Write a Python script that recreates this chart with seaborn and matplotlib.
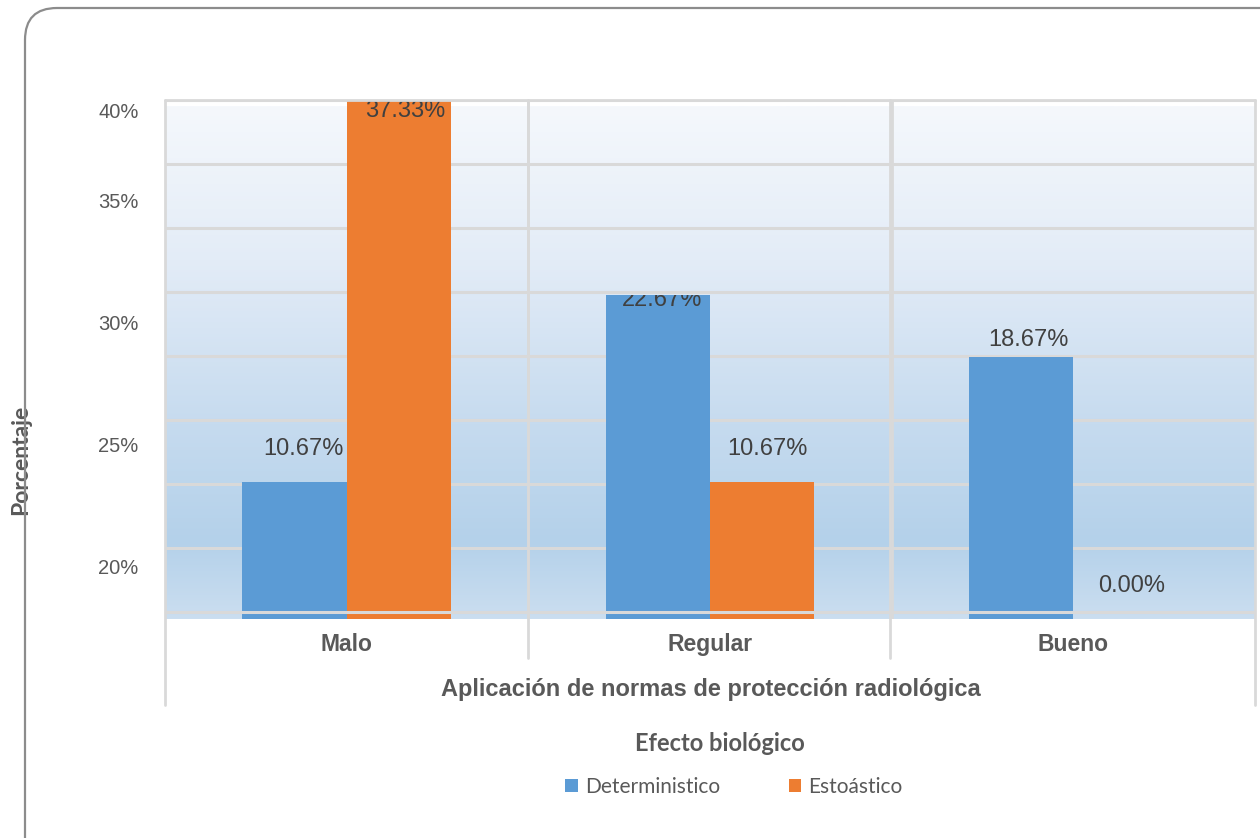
import numpy as np
import pandas as pd
import matplotlib
matplotlib.use("Agg")
import matplotlib.pyplot as plt
from matplotlib.colors import LinearSegmentedColormap
from matplotlib.lines import Line2D
from matplotlib.patches import FancyBboxPatch, Patch
import seaborn as sns

# ---- data -------------------------------------------------------------
categories = ["Malo", "Regular", "Bueno"]
series = ["Deterministico", "Estoástico"]
deterministico = [10.67, 22.67, 18.67]
estoastico = [37.33, 10.67, 0.00]
ytick_labels = ["20%", "25%", "30%", "35%", "40%"]

x_title = "Aplicación de normas de protección radiológica"
y_title = "Porcentaje"
legend_title = "Efecto biológico"

# ---- style ------------------------------------------------------------
BLUE = "#5b9bd5"
ORANGE = "#ed7d31"
GRID = "#d9d9d9"
TXT = "#595959"
VAL = "#404040"
ARIAL = "Liberation Sans"
CALIBRI = "Lato"

W, H = 1260, 838
sns.set_theme(style="white")
plt.rcParams["font.family"] = [ARIAL, "DejaVu Sans"]

fig = plt.figure(figsize=(W / 100, H / 100), dpi=100)
fig.patch.set_facecolor("white")


def fx(px):
    return px / W


def fy(py):
    return 1 - py / H


# plot area in pixels
L, R, T, B = 165, 1255, 100, 619
pos = [fx(L), fy(B), (R - L) / W, (B - T) / H]

# gradient backdrop
bg = fig.add_axes(pos, zorder=0)
grad_cmap = LinearSegmentedColormap.from_list(
    "wall", [(0.0, "#f5f8fc"), (0.30, "#e3ecf7"), (0.62, "#c6dbef"),
             (0.85, "#b4d1ea"), (1.0, "#cbdef0")])
bg.imshow(np.linspace(0, 1, 256).reshape(-1, 1), cmap=grad_cmap, aspect="auto",
          extent=(0, 1, 0, (B - 106) / (B - T)), origin="upper")
bg.set_xlim(0, 1)
bg.set_ylim(0, 1)
bg.axis("off")

ax = fig.add_axes(pos, zorder=1)
ax.patch.set_alpha(0)

df = pd.DataFrame({
    "categoria": categories * 2,
    "efecto": [series[0]] * 3 + [series[1]] * 3,
    "valor": deterministico + estoastico,
})

sns.barplot(data=df, x="categoria", y="valor", hue="efecto", order=categories,
            hue_order=series, palette=[BLUE, ORANGE], saturation=1,
            width=0.575, errorbar=None, legend=False, ax=ax, zorder=1,
            linewidth=0, edgecolor="none")

# value scale: 15.6 px per percentage point, zero at pixel 648.5
PX_PER = 15.6
ZERO = 648.5
ylo = (ZERO - B) / PX_PER
yhi = (ZERO - T) / PX_PER
ax.set_xlim(-0.5, 2.5)
ax.set_ylim(ylo, yhi)


def val_at(py):
    return (ZERO - py) / PX_PER


# horizontal gridlines every 64 px
for gy in np.arange(T, 613, 64):
    ax.axhline(val_at(gy), color=GRID, lw=2.2,
               zorder=3 if gy > 600 else 0.5)
# category dividers inside the plot
for vx in (0.5, 1.5):
    ax.axvline(vx, color=GRID, lw=2, zorder=0.5)

for s in ax.spines.values():
    s.set_visible(False)

# y tick labels
tick_px = [567, 445, 322, 200, 110]
ax.set_yticks([val_at(p) for p in tick_px], ytick_labels)
ax.tick_params(axis="y", length=0, pad=19, labelsize=14.5, labelcolor=TXT)
for t in ax.get_yticklabels():
    t.set_fontfamily([ARIAL])

# category labels
ax.set_xticks(range(len(categories)), categories)
ax.tick_params(axis="x", length=0, pad=10, labelsize=16.5, labelcolor=TXT)
for t in ax.get_xticklabels():
    t.set_fontweight("bold")
ax.set_xlabel("")
ax.set_ylabel("")

# value labels (pixel offset of the label centre above the visible bar top)
label_dy = [[33, 33, 17], [-11, 33, 33]]
label_dx = [[9, 4, 7], [6, 5, 6]]
for si, cont in enumerate(ax.containers):
    vals = deterministico if si == 0 else estoastico
    for ci, (bar, v) in enumerate(zip(cont.patches, vals)):
        cx = bar.get_x() + bar.get_width() / 2
        top_px = min(max(ZERO - v * PX_PER, T), B)
        ly = val_at(top_px - label_dy[si][ci])
        inside = (si == 0 and ci == 1)
        if inside:
            ly = val_at(300)
        txt = ax.text(cx + label_dx[si][ci] / (R - L) * 3, ly, f"{v:.2f}%",
                      ha="center", va="center", fontsize=17, color=VAL,
                      zorder=4, clip_on=inside)
        if inside:
            txt.set_clip_path(bar)

# category-axis lines below the plot
line_kw = dict(color=GRID, lw=2, transform=fig.transFigure)
for x0, y1 in ((L, 705), (R, 705), (528, 658), (890, 658)):
    fig.add_artist(Line2D([fx(x0), fx(x0)], [fy(T), fy(y1)], **line_kw))
fig.add_artist(Line2D([fx(L), fx(R)], [fy(T), fy(T)], **line_kw))

# titles
fig.text(fx(711), fy(689), x_title, ha="center", va="center", fontsize=17,
         fontweight="bold", color=TXT, family=[ARIAL])
fig.text(fx(21), fy(460), y_title, ha="center", va="center", rotation=90,
         fontsize=16.5, fontweight="bold", color=TXT, family=[CALIBRI])
fig.text(fx(720), fy(743), legend_title, ha="center", va="center",
         fontsize=17, fontweight="bold", color=TXT, family=[CALIBRI])

# legend
handles = [Patch(facecolor=BLUE, edgecolor="none"),
           Patch(facecolor=ORANGE, edgecolor="none")]
fig.legend(handles, series, loc="center", bbox_to_anchor=(fx(734), fy(787)),
           ncol=2, frameon=False, handlelength=0.6, handleheight=0.6,
           handletextpad=0.35, columnspacing=3.3,
           prop={"family": CALIBRI, "size": 15}, labelcolor=TXT)

# rounded chart border
border = FancyBboxPatch((25, -60), 1400, H - 8 + 60,
                        boxstyle="round,pad=0,rounding_size=32",
                        transform=None, facecolor="none", edgecolor="#8c8c8c",
                        lw=1.6, zorder=10)
fig.add_artist(border)

fig.savefig("out.png", dpi=100)
